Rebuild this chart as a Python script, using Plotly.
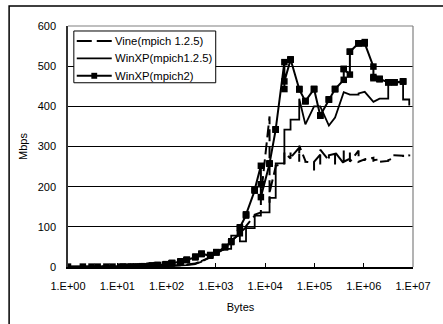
import plotly.graph_objects as go

sizes = [1, 2, 3, 4, 6, 8, 12, 13, 16, 19, 21, 24, 27, 29, 32, 35, 45, 48, 51, 61, 64, 67,
         93, 96, 99, 125, 128, 131, 189, 192, 195, 253, 256, 259, 381, 384, 387, 509, 512, 515,
         765, 768, 771, 1021, 1024, 1027, 1533, 1536, 1539, 2045, 2048, 2051, 3069, 3072, 3075,
         4093, 4096, 4099, 6141, 6144, 6147, 8189, 8192, 8195, 12285, 12288, 12291,
         16381, 16384, 16387, 24573, 24576, 24579, 32765, 32768, 32771, 49149, 49152, 49155,
         65533, 65536, 65539, 98301, 98304, 98307, 131069, 131072, 131075,
         196605, 196608, 196611, 262141, 262144, 262147, 393213, 393216, 393219,
         524285, 524288, 524291, 786429, 786432, 786435, 1048573, 1048576, 1048579,
         1572861, 1572864, 1572867, 2097149, 2097152, 2097155, 3145725, 3145728, 3145731,
         4194301, 4194304, 4194307, 6291453, 6291456, 6291459, 8388605, 8388608, 8388611]

vine_mpich125 = [0.5, 0.5, 0.5, 0.5, 0.5, 1, 1, 1, 1, 1, 1, 1, 1, 1, 1, 1, 2, 2, 2, 2, 2, 2,
                 3, 3, 3, 4, 4, 4, 5, 5, 5, 6, 6, 6, 9, 9, 9, 14, 14, 14,
                 24, 24, 24, 34, 34, 34, 46, 46, 46, 62, 66, 66, 82, 84, 84,
                 99, 102, 102, 128, 130, 130, 136, 150, 175, 375, 160, 185,
                 250, 252, 252, 258, 262, 285, 270, 285, 272, 297, 262, 302,
                 264, 266, 262, 260, 240, 262, 280, 255, 292,
                 265, 270, 278, 282, 255, 286, 258, 290, 262,
                 270, 286, 262, 290, 262, 262, 268, 264, 268,
                 272, 262, 266, 268, 262, 262, 264, 266, 266,
                 272, 276, 278, 277, 274, 276, 278, 280, 280]

winxp_mpich125 = [0.3, 0.5, 0.6, 0.8, 1, 1, 1, 1, 1, 1, 1, 1, 1, 1, 1, 1, 1.5, 1.5, 1.5, 2, 2, 2,
                  2.5, 2.5, 2.5, 3, 3, 3, 3.5, 4, 4, 4.5, 5, 5, 7, 8, 8, 13, 15, 15,
                  24, 26, 26, 34, 36, 36, 45, 45, 45, 45, 78, 78, 78, 64, 64,
                  64, 97, 97, 97, 128, 128, 128, 136, 136, 136, 172, 172,
                  172, 258, 258, 258, 342, 342, 342, 367, 367, 367, 388, 419,
                  355, 355, 355, 400, 400, 400, 400, 400, 400,
                  352, 352, 352, 372, 372, 372, 435, 435, 435,
                  429, 429, 429, 429, 432, 432, 436, 436, 436,
                  411, 411, 411, 419, 419, 419, 419, 460, 460,
                  460, 460, 460, 460, 417, 417, 417, 402, 402]

winxp_mpich2 = [1, 1, 1, 1, 1, 1, 1, 1, 1, 1, 1, 1, 1, 1, 2, 2, 3, 3, 4, 4, 5, 5,
                6, 7, 7, 9, 10, 10, 13, 14, 14, 17, 18, 18, 24, 25, 26, 32, 33, 33,
                28, 29, 30, 36, 37, 37, 49, 50, 50, 62, 63, 64, 84, 97, 99,
                128, 130, 131, 190, 192, 193, 252, 206, 174, 257, 257, 258,
                342, 342, 343, 510, 443, 462, 516, 516, 517, 443, 443, 442,
                413, 413, 413, 443, 443, 443, 377, 377, 377,
                417, 417, 417, 443, 443, 443, 466, 493, 493,
                479, 536, 536, 557, 557, 557, 557, 560, 557,
                499, 473, 470, 468, 468, 468, 460, 460, 460,
                460, 460, 460, 462, 462, 462, None, None, None]

series_names = ["Vine(mpich 1.2.5)", "WinXP(mpich1.2.5)", "WinXP(mpich2)"]
y_ticks = [0, 100, 200, 300, 400, 500, 600]
x_ticks = [1, 10, 100, 1e3, 1e4, 1e5, 1e6, 1e7]
x_tick_labels = ["1.E+00", "1.E+01", "1.E+02", "1.E+03", "1.E+04", "1.E+05", "1.E+06", "1.E+07"]

FONT = "Liberation Sans, Arial, sans-serif"
DASH = "12px,5px"

fig = go.Figure()
fig.add_trace(go.Scatter(x=sizes, y=vine_mpich125, name=series_names[0], mode="lines",
                         line=dict(color="black", width=2, dash=DASH)))
fig.add_trace(go.Scatter(x=sizes, y=winxp_mpich125, name=series_names[1], mode="lines",
                         line=dict(color="black", width=1.8)))
fig.add_trace(go.Scatter(x=sizes, y=winxp_mpich2, name=series_names[2], mode="lines+markers",
                         line=dict(color="black", width=2),
                         marker=dict(symbol="square", size=6.5, color="black")))

# Legend drawn manually (compact Excel-style legend box)
L, T, R, B = 0.0169, 0.9793, 0.4282, 0.7645
rows = [0.9380, 0.8657, 0.7934]
sx0, sx1, txt_x = 0.0254, 0.1268, 0.1290
styles = [dict(dash="15px,5px", width=2), dict(dash="solid", width=1.8), dict(dash="solid", width=2)]

shapes = [
    dict(type="line", xref="paper", yref="paper", x0=0, x1=1, y0=1, y1=1,
         line=dict(color="#808080", width=1.2)),
    dict(type="line", xref="paper", yref="paper", x0=1, x1=1, y0=0, y1=1,
         line=dict(color="#808080", width=1.2)),
    dict(type="rect", xref="paper", yref="paper", x0=-0.1707, x1=1.2, y0=-0.4, y1=1.0825,
         line=dict(color="black", width=1.5), layer="below"),
    dict(type="rect", xref="paper", yref="paper", x0=L, x1=R, y0=B, y1=T,
         line=dict(color="black", width=1), fillcolor="white", layer="above"),
]
annotations = []
for name, yy, st in zip(series_names, rows, styles):
    shapes.append(dict(type="line", xref="paper", yref="paper", x0=sx0, x1=sx1, y0=yy, y1=yy,
                       line=dict(color="black", width=st["width"], dash=st["dash"]), layer="above"))
    annotations.append(dict(xref="paper", yref="paper", x=txt_x, y=yy, text=name,
                            showarrow=False, xanchor="left", yanchor="middle",
                            font=dict(size=11.3, family=FONT, color="black")))
# marker sample for the mpich2 entry
mx = (sx0 + sx1) / 2
shapes.append(dict(type="rect", xref="paper", yref="paper",
                   x0=mx - 3 / 355, x1=mx + 3 / 355, y0=rows[2] - 3 / 242, y1=rows[2] + 3 / 242,
                   line=dict(width=0), fillcolor="black", layer="above"))

fig.update_layout(
    width=443, height=324,
    margin=dict(l=68, r=20, t=26, b=56),
    paper_bgcolor="white", plot_bgcolor="white",
    font=dict(family=FONT, size=11, color="black"),
    showlegend=False,
    xaxis=dict(type="log", range=[0, 7], tickvals=x_ticks, ticktext=x_tick_labels,
               showgrid=False, showline=True, linecolor="black", linewidth=1.5,
               ticks="inside", ticklen=4, tickcolor="black", zeroline=False,
               ticklabelstandoff=8,
               title=dict(text="Bytes", standoff=12, font=dict(size=11))),
    yaxis=dict(range=[0, 600], tickvals=y_ticks, showgrid=True, gridcolor="black",
               gridwidth=1, showline=True, linecolor="#333333", linewidth=1.5,
               ticks="", zeroline=False, ticklabelstandoff=8,
               title=dict(text="Mbps", standoff=8, font=dict(size=11))),
    shapes=shapes,
    annotations=annotations,
)

fig.write_html("out.html", config={"displayModeBar": False},
               post_script="document.body.style.margin='0px';")
